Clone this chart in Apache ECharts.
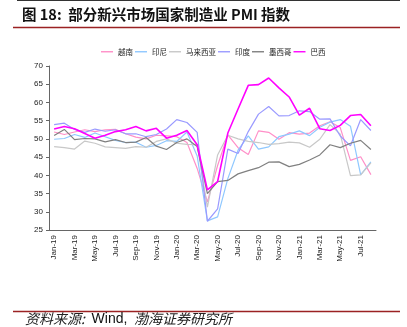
<!DOCTYPE html>
<html>
<head>
<meta charset="utf-8">
<script src="https://cdn.jsdelivr.net/npm/echarts@6/dist/echarts.min.js"></script>
<style>
html,body{margin:0;padding:0;background:#fff;}
#chart{width:407px;height:327px;}
</style>
</head>
<body>
<div id="chart"></div>
<script>
// Months Jan-19 .. Aug-21
const months = ['Jan-19','Feb-19','Mar-19','Apr-19','May-19','Jun-19','Jul-19','Aug-19','Sep-19','Oct-19','Nov-19','Dec-19',
  'Jan-20','Feb-20','Mar-20','Apr-20','May-20','Jun-20','Jul-20','Aug-20','Sep-20','Oct-20','Nov-20','Dec-20',
  'Jan-21','Feb-21','Mar-21','Apr-21','May-21','Jun-21','Jul-21','Aug-21'];

// Manufacturing PMI by country
const vietnam   = [51.9,51.2,51.9,52.5,52.0,52.5,52.6,51.4,50.5,50.0,51.0,50.8, 50.6,49.0,41.9,32.7,42.7,51.1,47.6,45.7,52.2,51.8,49.9,51.7, 51.3,51.6,53.6,54.7,53.1,44.1,45.1,40.2];
const indonesia = [49.9,50.1,51.2,50.4,51.6,50.6,49.6,49.0,49.1,47.7,48.2,49.5, 49.3,51.9,45.3,27.5,28.6,39.1,46.9,50.8,47.2,47.8,50.6,51.3, 52.2,50.9,53.2,54.6,55.3,53.5,40.1,43.7];
const malaysia  = [47.9,47.6,47.2,49.4,48.8,47.8,47.6,47.4,47.9,47.7,49.3,50.0, 48.8,48.5,48.4,31.3,45.6,51.0,50.0,49.3,49.0,48.5,48.7,49.1, 48.9,47.7,49.9,53.9,51.3,39.9,40.1,43.4];
const india     = [53.9,54.3,52.6,51.8,52.7,52.1,52.5,51.4,51.4,50.6,51.2,52.7, 55.3,54.5,51.8,27.4,30.8,47.2,46.0,52.0,56.8,58.9,56.3,56.4, 57.7,57.5,55.4,55.5,50.8,48.1,55.3,52.3];
const mexico    = [50.9,52.6,49.8,50.1,50.0,49.2,49.8,49.0,49.1,50.4,48.0,47.1, 49.0,50.0,47.9,35.0,38.3,38.6,40.4,41.3,42.1,43.6,43.7,42.4, 43.0,44.2,45.6,48.4,47.6,48.8,49.6,47.1];
const brazil    = [52.7,53.4,52.8,51.5,50.2,51.0,52.0,52.5,53.4,52.2,52.9,50.2, 51.0,52.3,48.4,36.0,38.3,51.6,58.2,64.7,64.9,66.7,64.0,61.5, 56.5,58.4,52.8,52.3,53.7,56.4,56.7,53.6];

const seriesNames = ['越南','印尼','马来西亚','印度','墨西哥','巴西'];
const seriesData = [vietnam, indonesia, malaysia, india, mexico, brazil];
const seriesColors = ['#ff8fc8','#8fc8ff','#c8c8c8','#9a9aff','#808080','#ff00ff'];

const yTicks = {min: 25, max: 70, step: 5};

const chart = echarts.init(document.getElementById('chart'), null, {renderer: 'canvas'});
const cjk = '"Noto Sans CJK SC", sans-serif';
const latin = '"Liberation Sans", Arial, sans-serif';

chart.setOption({
  backgroundColor: '#fff',
  animation: false,
  grid: {left: 49, right: 31, top: 66, bottom: 97, containLabel: false},
  legend: {
    top: 43, left: 96,
    itemWidth: 12, itemHeight: 8, itemGap: 2,
    icon: 'path://M0,0 L12,0 L12,1.4 L0,1.4 Z',
    textStyle: {fontFamily: cjk, fontSize: 7.5, color: '#222'},
    data: seriesNames
  },
  xAxis: {
    type: 'category',
    data: months,
    boundaryGap: true,
    axisLine: {lineStyle: {color: '#666', width: 1}},
    axisTick: {interval: 1, inside: true, length: 3, lineStyle: {color: '#666'}},
    axisLabel: {interval: 1, rotate: 90, margin: 5, fontFamily: latin, fontSize: 8, color: '#222'},
    splitLine: {show: false}
  },
  yAxis: {
    type: 'value',
    min: yTicks.min, max: yTicks.max, interval: yTicks.step,
    axisLine: {show: true, lineStyle: {color: '#666', width: 1}},
    axisTick: {show: true, length: 3, lineStyle: {color: '#666'}},
    axisLabel: {margin: 6, fontFamily: latin, fontSize: 8, color: '#222'},
    splitLine: {show: false}
  },
  series: seriesNames.map((n, i) => ({
    name: n,
    type: 'line',
    data: seriesData[i],
    symbol: 'none',
    lineStyle: {width: i === 5 ? 1.6 : 1.2, color: seriesColors[i]},
    itemStyle: {color: seriesColors[i]}
  })),
  graphic: [
    {type: 'line', shape: {x1: 17, y1: 0.5, x2: 400, y2: 0.5}, style: {stroke: '#333', lineWidth: 1}},
    {type: 'text', left: 22, top: 7, style: {text: '图 18:  部分新兴市场国家制造业 PMI 指数', font: 'bold 14.5px ' + cjk, fill: '#111'}},
    {type: 'line', shape: {x1: 13, y1: 27.5, x2: 400, y2: 27.5}, style: {stroke: '#9b2223', lineWidth: 1.5}},
    {type: 'line', shape: {x1: 13, y1: 311.5, x2: 400, y2: 311.5}, style: {stroke: '#9b2223', lineWidth: 1.5}},
    {type: 'text', left: 25, top: 312, style: {
      text: '{a|资料来源:}  {b|Wind,}  {a|渤海证券研究所}',
      rich: {
        a: {font: 'italic 14px ' + cjk, fill: '#222'},
        b: {font: '14px ' + latin, fill: '#111'}
      }
    }}
  ]
});
</script>
</body>
</html>
